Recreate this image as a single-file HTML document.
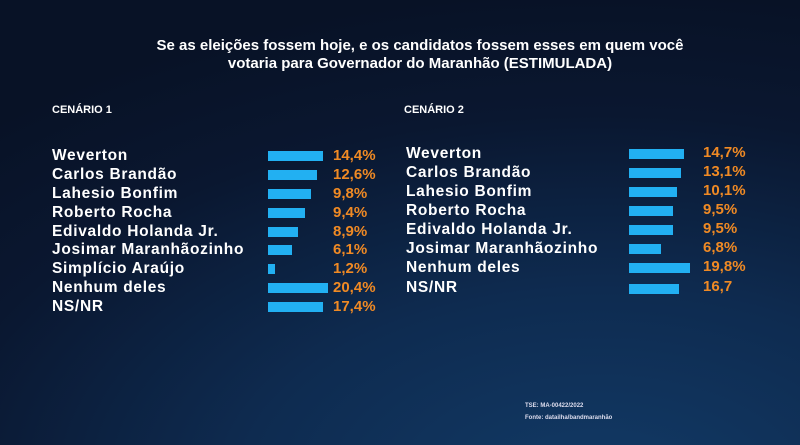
<!DOCTYPE html>
<html><head><meta charset="utf-8"><style>
body{margin:0;width:800px;height:445px;overflow:hidden;font-family:"Liberation Sans",sans-serif;font-weight:bold;
background:radial-gradient(ellipse 900px 500px at 75% 110%,#123a66 0%,#0e2b50 40%,#0a1730 75%,#081226 100%);position:relative}
.t{position:absolute;color:#fff;white-space:nowrap}
.n{font-size:15.5px;letter-spacing:0.7px;line-height:18px}
.p{position:absolute;color:#f08a24;font-size:15px;line-height:18px}
.b{position:absolute;background:#22b0f2;height:10px}
</style></head><body>
<div class="t" style="left:0;width:840px;text-align:center;top:37px;font-size:15px;line-height:18px">Se as eleições fossem hoje, e os candidatos fossem esses em quem você<br>votaria para Governador do Maranhão (ESTIMULADA)</div>
<div class="t" style="left:52px;top:104px;font-size:11px">CENÁRIO 1</div>
<div class="t" style="left:404px;top:104px;font-size:11px">CENÁRIO 2</div>

<div class="t n" style="left:52px;top:147px">Weverton</div><div class="b" style="left:268px;top:151px;width:55px"></div><div class="p" style="left:333px;top:147px">14,4%</div>
<div class="t n" style="left:52px;top:166px">Carlos Brandão</div><div class="b" style="left:268px;top:170px;width:49px"></div><div class="p" style="left:333px;top:166px">12,6%</div>
<div class="t n" style="left:52px;top:185px">Lahesio Bonfim</div><div class="b" style="left:268px;top:189px;width:43px"></div><div class="p" style="left:333px;top:185px">9,8%</div>
<div class="t n" style="left:52px;top:204px">Roberto Rocha</div><div class="b" style="left:268px;top:208px;width:37px"></div><div class="p" style="left:333px;top:204px">9,4%</div>
<div class="t n" style="left:52px;top:223px">Edivaldo Holanda Jr.</div><div class="b" style="left:268px;top:227px;width:30px"></div><div class="p" style="left:333px;top:223px">8,9%</div>
<div class="t n" style="left:52px;top:241px">Josimar Maranhãozinho</div><div class="b" style="left:268px;top:245px;width:24px"></div><div class="p" style="left:333px;top:241px">6,1%</div>
<div class="t n" style="left:52px;top:260px">Simplício Araújo</div><div class="b" style="left:268px;top:264px;width:7px"></div><div class="p" style="left:333px;top:260px">1,2%</div>
<div class="t n" style="left:52px;top:279px">Nenhum deles</div><div class="b" style="left:268px;top:283px;width:60px"></div><div class="p" style="left:333px;top:279px">20,4%</div>
<div class="t n" style="left:52px;top:298px">NS/NR</div><div class="b" style="left:268px;top:302px;width:55px"></div><div class="p" style="left:333px;top:298px">17,4%</div>

<div class="t n" style="left:406px;top:145px">Weverton</div><div class="b" style="left:629px;top:149px;width:55px"></div><div class="p" style="left:703px;top:144px">14,7%</div>
<div class="t n" style="left:406px;top:164px">Carlos Brandão</div><div class="b" style="left:629px;top:168px;width:52px"></div><div class="p" style="left:703px;top:163px">13,1%</div>
<div class="t n" style="left:406px;top:183px">Lahesio Bonfim</div><div class="b" style="left:629px;top:187px;width:48px"></div><div class="p" style="left:703px;top:182px">10,1%</div>
<div class="t n" style="left:406px;top:202px">Roberto Rocha</div><div class="b" style="left:629px;top:206px;width:44px"></div><div class="p" style="left:703px;top:201px">9,5%</div>
<div class="t n" style="left:406px;top:221px">Edivaldo Holanda Jr.</div><div class="b" style="left:629px;top:225px;width:44px"></div><div class="p" style="left:703px;top:220px">9,5%</div>
<div class="t n" style="left:406px;top:240px">Josimar Maranhãozinho</div><div class="b" style="left:629px;top:244px;width:32px"></div><div class="p" style="left:703px;top:239px">6,8%</div>
<div class="t n" style="left:406px;top:259px">Nenhum deles</div><div class="b" style="left:629px;top:263px;width:61px"></div><div class="p" style="left:703px;top:258px">19,8%</div>
<div class="t n" style="left:406px;top:279px">NS/NR</div><div class="b" style="left:629px;top:284px;width:50px"></div><div class="p" style="left:703px;top:278px">16,7</div>

<div class="t" style="left:525px;top:403px;font-size:6px;color:#dde">TSE: MA-00422/2022</div>
<div class="t" style="left:525px;top:415px;font-size:6px;color:#dde">Fonte: datailha/bandmaranhão</div>
</body></html>
